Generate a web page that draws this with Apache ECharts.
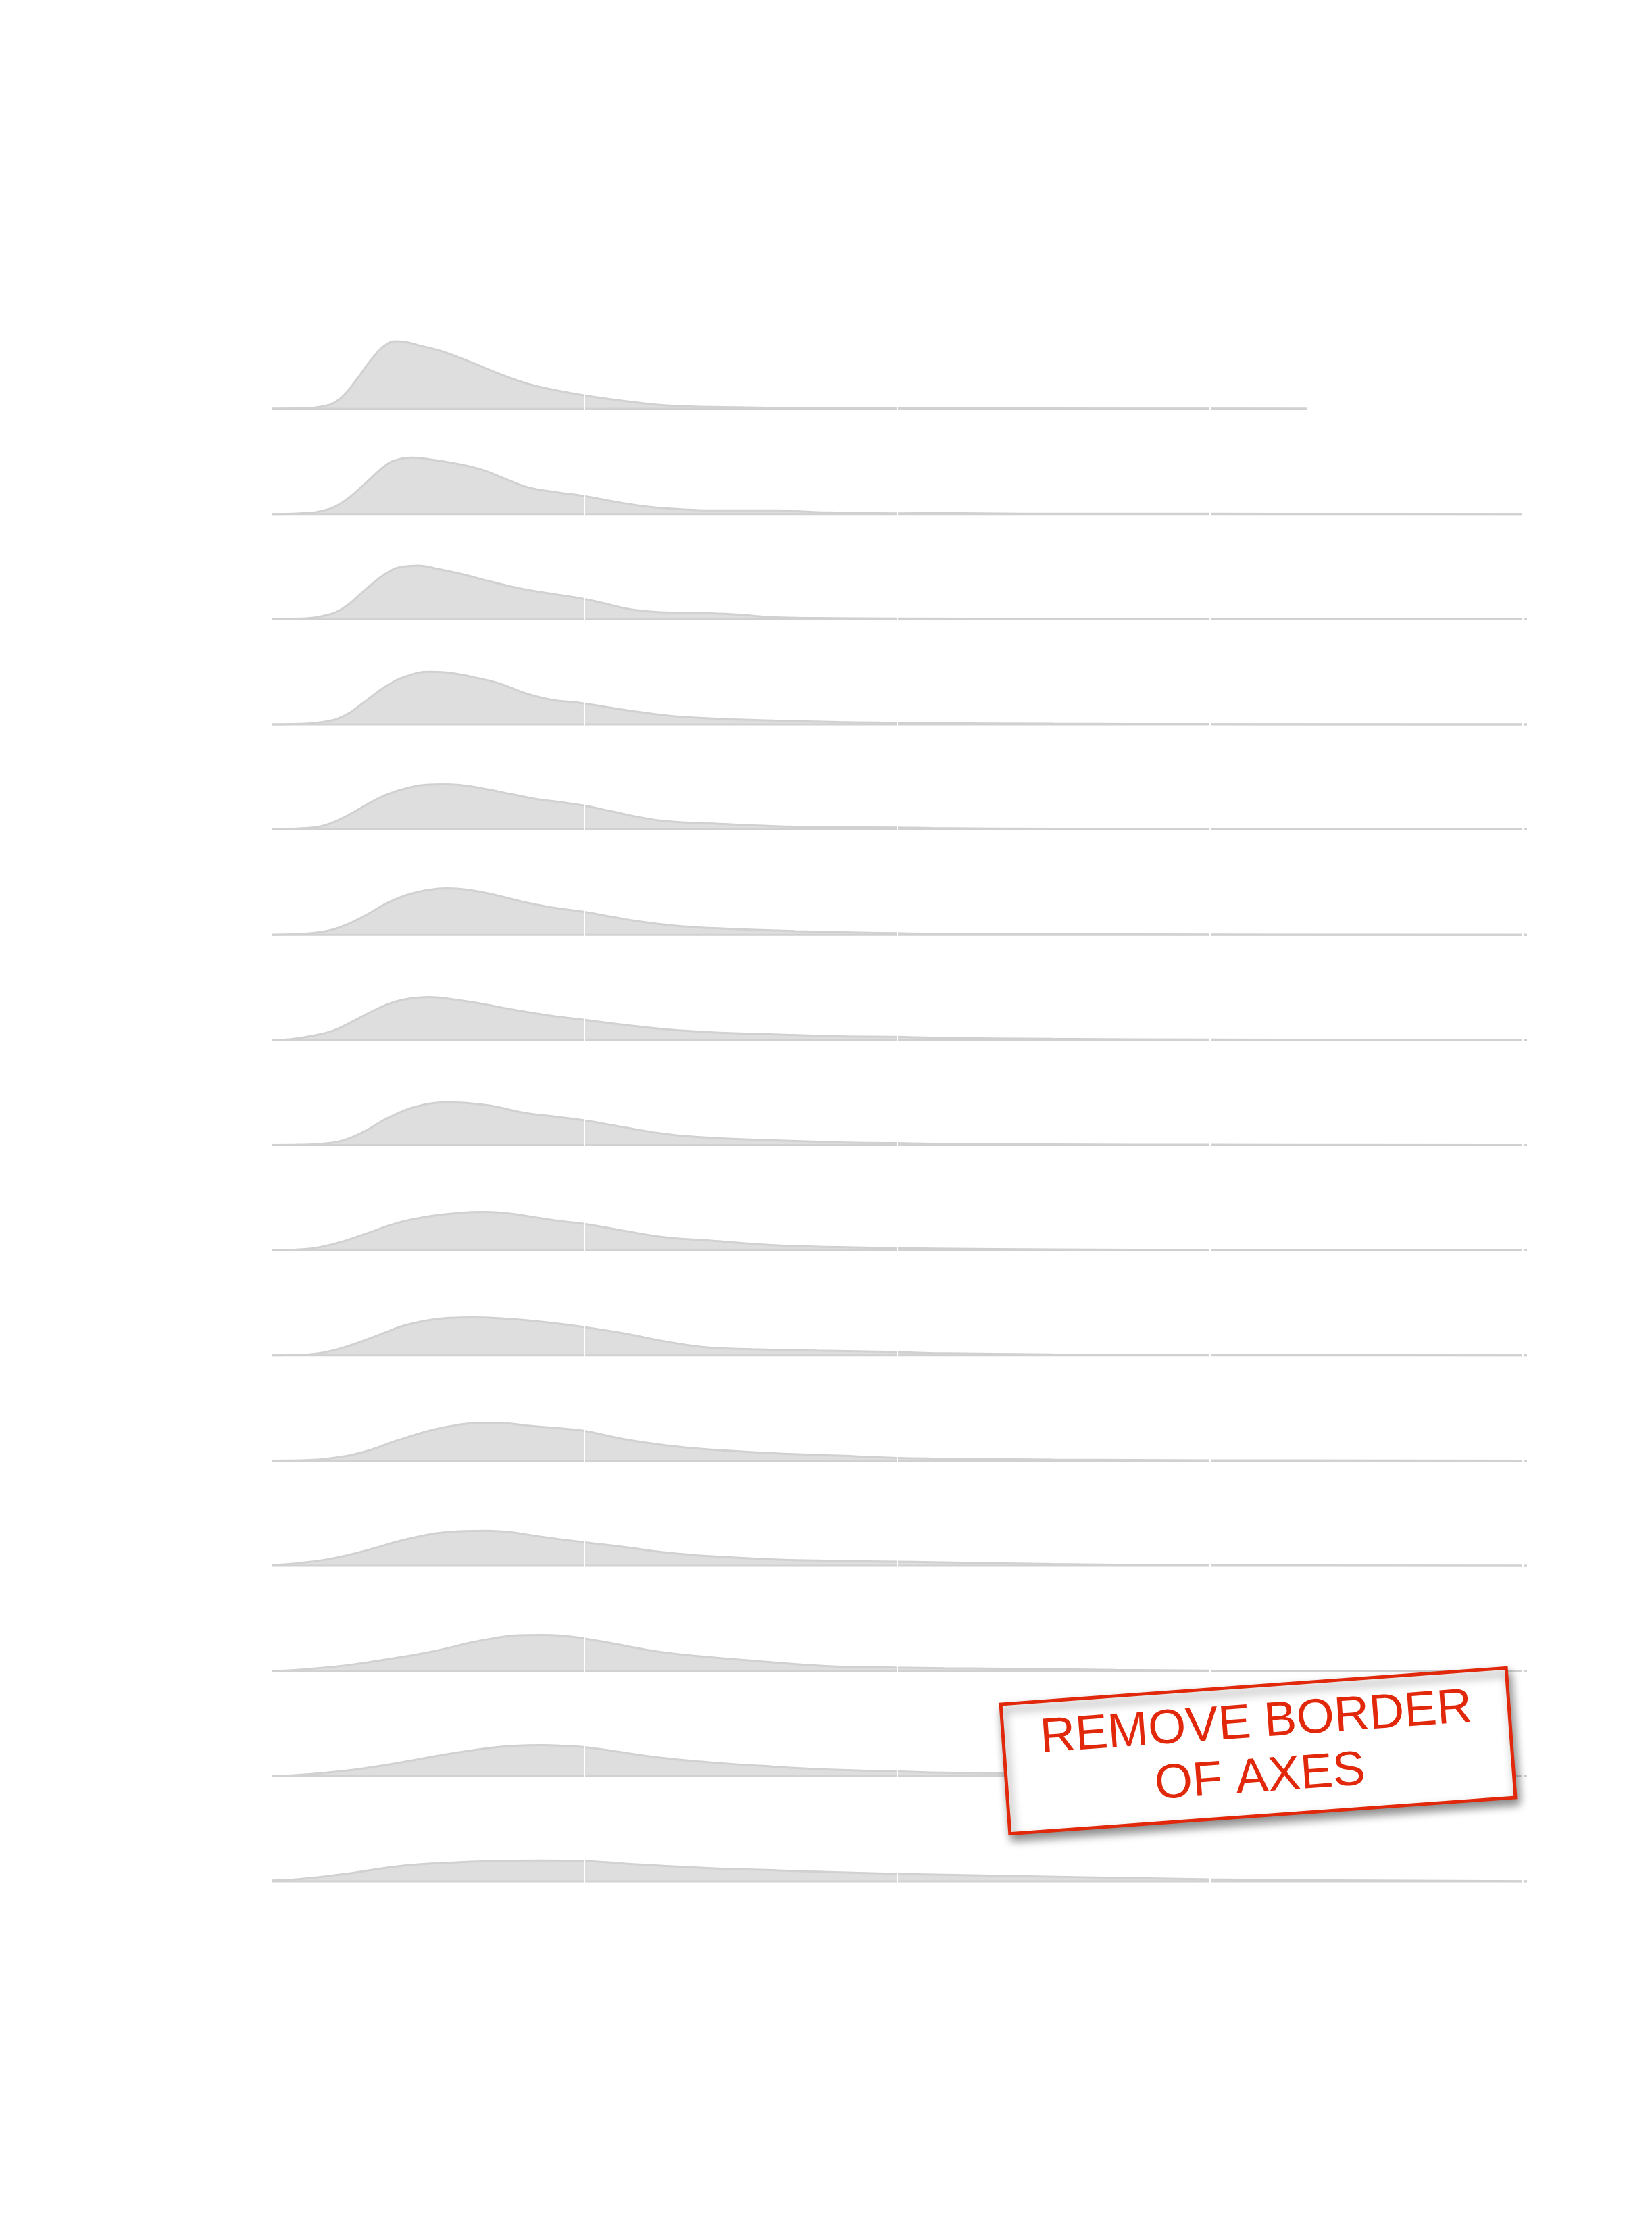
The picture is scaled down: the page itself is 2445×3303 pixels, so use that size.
<!DOCTYPE html>
<html>
<head>
<meta charset="utf-8">
<style>
  html, body { margin: 0; padding: 0; background: #ffffff; }
  #chart { width: 2445px; height: 3303px; }
</style>
<script src="https://cdn.jsdelivr.net/npm/echarts@6/dist/echarts.min.js"></script>
</head>
<body>
<div id="chart"></div>
<script>
// ---- Data: x positions and density values for each ridge (top to bottom) ----
const xs1  = [0, 0.09, 0.159, 0.214, 0.269, 0.325, 0.366, 0.40, 0.435, 0.476, 0.545, 0.641, 0.738, 0.821, 0.917, 0.997, 1.124, 1.261, 1.468, 1.744, 1.997, 2.5, 3.0, 3.309];
const den1 = [0, 0.013, 0.066, 0.266, 0.834, 1.534, 1.9, 2.0, 1.966, 1.866, 1.7, 1.366, 1.0, 0.734, 0.534, 0.4, 0.234, 0.1, 0.046, 0.02, 0.02, 0.01, 0.004, 0];

const xs2  = [0, 0.09, 0.159, 0.228, 0.297, 0.366, 0.407, 0.449, 0.504, 0.573, 0.669, 0.752, 0.821, 0.917, 0.997, 1.124, 1.261, 1.468, 1.606, 1.744, 1.997, 2.14, 2.4, 3.0, 3.5, 4.0];
const den2 = [0, 0.02, 0.086, 0.354, 0.886, 1.454, 1.62, 1.666, 1.62, 1.52, 1.32, 1.02, 0.786, 0.634, 0.534, 0.32, 0.166, 0.106, 0.106, 0.054, 0.02, 0.026, 0.01, 0.006, 0.004, 0];

const xs3  = [0, 0.09, 0.159, 0.228, 0.297, 0.366, 0.421, 0.469, 0.531, 0.614, 0.697, 0.807, 0.917, 0.997, 1.055, 1.151, 1.261, 1.399, 1.496, 1.606, 1.744, 1.997, 2.5, 3.0, 4.015];
const den3 = [0, 0.02, 0.086, 0.32, 0.854, 1.354, 1.554, 1.586, 1.486, 1.32, 1.12, 0.886, 0.72, 0.6, 0.486, 0.286, 0.2, 0.174, 0.134, 0.054, 0.034, 0.02, 0.01, 0.006, 0];

const xs4  = [0, 0.09, 0.159, 0.228, 0.297, 0.366, 0.435, 0.504, 0.559, 0.642, 0.725, 0.807, 0.890, 0.997, 1.124, 1.261, 1.399, 1.606, 1.813, 1.997, 2.113, 2.5, 3.0, 4.015];
const den4 = [0, 0.014, 0.066, 0.234, 0.666, 1.134, 1.434, 1.554, 1.534, 1.4, 1.22, 0.934, 0.734, 0.62, 0.434, 0.266, 0.18, 0.114, 0.066, 0.046, 0.034, 0.016, 0.006, 0];

const xs5  = [0, 0.09, 0.159, 0.228, 0.297, 0.366, 0.435, 0.504, 0.545, 0.600, 0.683, 0.780, 0.849, 0.917, 0.997, 1.083, 1.165, 1.261, 1.399, 1.606, 1.813, 1.997, 2.113, 2.5, 3.0, 4.015];
const den5 = [0, 0.032, 0.098, 0.342, 0.702, 1.028, 1.232, 1.33, 1.34, 1.322, 1.2, 1.02, 0.898, 0.816, 0.71, 0.546, 0.384, 0.244, 0.18, 0.098, 0.066, 0.058, 0.04, 0.02, 0.008, 0];

const xs6  = [0, 0.09, 0.159, 0.228, 0.297, 0.366, 0.435, 0.504, 0.559, 0.628, 0.711, 0.807, 0.890, 0.997, 1.096, 1.193, 1.303, 1.468, 1.675, 1.882, 1.997, 2.113, 2.5, 3.0, 4.015];
const den6 = [0, 0.024, 0.082, 0.254, 0.556, 0.922, 1.184, 1.33, 1.372, 1.33, 1.184, 0.964, 0.816, 0.678, 0.514, 0.368, 0.254, 0.172, 0.106, 0.066, 0.048, 0.032, 0.02, 0.008, 0];

const xs7  = [0, 0.062, 0.131, 0.2, 0.269, 0.338, 0.394, 0.449, 0.504, 0.573, 0.669, 0.780, 0.890, 0.997, 1.124, 1.261, 1.399, 1.606, 1.813, 1.997, 2.113, 2.5, 3.0, 4.015];
const den7 = [0, 0.024, 0.122, 0.286, 0.596, 0.922, 1.126, 1.232, 1.266, 1.208, 1.07, 0.882, 0.718, 0.596, 0.448, 0.31, 0.228, 0.164, 0.106, 0.09, 0.066, 0.03, 0.012, 0];

const xs8  = [0, 0.09, 0.159, 0.228, 0.297, 0.366, 0.435, 0.504, 0.559, 0.614, 0.697, 0.807, 0.890, 0.997, 1.124, 1.261, 1.399, 1.606, 1.813, 1.997, 2.113, 2.5, 3.0, 4.015];
const den8 = [0, 0.008, 0.04, 0.138, 0.408, 0.776, 1.062, 1.224, 1.266, 1.248, 1.168, 0.956, 0.858, 0.734, 0.53, 0.326, 0.22, 0.138, 0.082, 0.058, 0.04, 0.02, 0.008, 0];

const xs9  = [0, 0.09, 0.2, 0.297, 0.394, 0.504, 0.600, 0.669, 0.738, 0.835, 0.917, 0.997, 1.124, 1.261, 1.399, 1.606, 1.813, 1.997, 2.113, 2.5, 3.0, 4.015];
const den9 = [0, 0.024, 0.188, 0.474, 0.784, 1.004, 1.102, 1.134, 1.11, 0.98, 0.866, 0.784, 0.58, 0.376, 0.286, 0.146, 0.09, 0.066, 0.048, 0.024, 0.01, 0];

const xs10  = [0, 0.09, 0.173, 0.256, 0.338, 0.421, 0.504, 0.573, 0.642, 0.725, 0.835, 0.917, 0.997, 1.124, 1.261, 1.399, 1.537, 1.744, 1.997, 2.113, 2.5, 3.0, 4.015];
const den10 = [0, 0.016, 0.098, 0.31, 0.588, 0.874, 1.044, 1.11, 1.126, 1.102, 1.02, 0.938, 0.84, 0.654, 0.408, 0.228, 0.18, 0.138, 0.098, 0.066, 0.03, 0.012, 0];

const xs11  = [0, 0.09, 0.2, 0.297, 0.394, 0.504, 0.600, 0.669, 0.725, 0.807, 0.917, 0.997, 1.124, 1.261, 1.399, 1.606, 1.813, 1.997, 2.113, 2.5, 3.0, 4.015];
const den11 = [0, 0.008, 0.082, 0.262, 0.572, 0.882, 1.062, 1.118, 1.118, 1.044, 0.956, 0.882, 0.636, 0.448, 0.326, 0.22, 0.146, 0.08, 0.06, 0.03, 0.01, 0];

const xs12  = [0, 0.09, 0.2, 0.31, 0.421, 0.531, 0.614, 0.683, 0.752, 0.862, 0.997, 1.124, 1.261, 1.399, 1.606, 1.813, 1.997, 2.113, 2.5, 3.0, 4.015];
const den12 = [0.024, 0.082, 0.228, 0.474, 0.76, 0.964, 1.028, 1.036, 1.004, 0.858, 0.694, 0.556, 0.392, 0.286, 0.188, 0.146, 0.122, 0.106, 0.05, 0.016, 0];

const xs13  = [0, 0.104, 0.256, 0.407, 0.483, 0.559, 0.634, 0.710, 0.786, 0.862, 0.937, 0.995, 1.089, 1.240, 1.392, 1.543, 1.770, 1.995, 2.15, 2.33, 2.7, 3.0, 4.015];
const den13 = [0, 0.046, 0.186, 0.4, 0.52, 0.666, 0.834, 0.966, 1.054, 1.066, 1.034, 0.966, 0.814, 0.566, 0.414, 0.3, 0.146, 0.1, 0.08, 0.066, 0.03, 0.01, 0];

const xs14  = [0, 0.104, 0.256, 0.407, 0.559, 0.710, 0.786, 0.862, 0.937, 0.995, 1.089, 1.240, 1.392, 1.543, 1.770, 1.995, 2.15, 2.33, 2.7, 3.0, 4.015];
const den14 = [0, 0.046, 0.18, 0.394, 0.646, 0.846, 0.9, 0.914, 0.894, 0.86, 0.746, 0.546, 0.414, 0.314, 0.194, 0.14, 0.1, 0.08, 0.04, 0.014, 0];

const xs15  = [0, 0.104, 0.256, 0.407, 0.559, 0.710, 0.862, 0.995, 1.165, 1.392, 1.619, 1.8, 2.0, 2.3, 2.6, 3.0, 3.4, 4.015];
const den15 = [0.026, 0.08, 0.246, 0.446, 0.546, 0.6, 0.614, 0.6, 0.5, 0.39, 0.32, 0.27, 0.22, 0.17, 0.12, 0.06, 0.03, 0.006];

// extent of each ridge's baseline (data range)
const rowEnds = [3.309, 4.0, 4.015, 4.015, 4.015, 4.015, 4.015, 4.015, 4.015, 4.015, 4.015, 4.015, 4.015, 4.015, 4.015];
const xTicks = [0, 1, 2, 3, 4];
const noteText = 'REMOVE BORDER\nOF AXES';

const rowXs  = [xs1, xs2, xs3, xs4, xs5, xs6, xs7, xs8, xs9, xs10, xs11, xs12, xs13, xs14, xs15];
const rowDen = [den1, den2, den3, den4, den5, den6, den7, den8, den9, den10, den11, den12, den13, den14, den15];

// ---- Layout (styling only) ----
const LEFT = 402, WIDTH = 1859;
const FIRST_BASE = 605, STEP = 155.64;
const PX_PER_UNIT = 50;          // vertical pixels per density unit
const Y_MAX = 3.0, PAD = 3;      // pad below baseline so gridlines cut the baseline
const Y_MIN = -PAD / PX_PER_UNIT;
const X_MAX = 4.015;

const FILL = '#dedede', LINE = '#d1d1d1';

const grids = [], xAxes = [], yAxes = [], series = [];
rowXs.forEach((xs, i) => {
  const base = FIRST_BASE + i * STEP;
  const h = (Y_MAX - Y_MIN) * PX_PER_UNIT;
  grids.push({ left: LEFT, width: WIDTH, top: base - Y_MAX * PX_PER_UNIT, height: h, containLabel: false });
  xAxes.push({
    gridIndex: i, type: 'value', min: 0, max: X_MAX, interval: 1, z: 10,
    axisLine: { show: false }, axisTick: { show: false }, axisLabel: { show: false },
    splitLine: { show: true, lineStyle: { color: '#ffffff', width: 2 } }
  });
  yAxes.push({ gridIndex: i, type: 'value', min: Y_MIN, max: Y_MAX, show: false, splitLine: { show: false } });
  const pts = xs.map((x, k) => [x, rowDen[i][k]]);
  series.push({
    type: 'line', xAxisIndex: i, yAxisIndex: i, data: pts,
    smooth: 0.45, showSymbol: false, silent: true, z: 2,
    lineStyle: { color: LINE, width: 3 },
    areaStyle: { color: FILL, opacity: 1, origin: 0 }
  });
  series.push({
    type: 'line', xAxisIndex: i, yAxisIndex: i, data: [[xTicks[0], 0], [rowEnds[i], 0]],
    showSymbol: false, silent: true, z: 3,
    lineStyle: { color: LINE, width: 3 }
  });
});

const chart = echarts.init(document.getElementById('chart'), null, { renderer: 'canvas' });
chart.setOption({
  backgroundColor: '#ffffff',
  animation: false,
  grid: grids, xAxis: xAxes, yAxis: yAxes, series: series,
  graphic: [{
    type: 'group', x: 1862, y: 2591, rotation: 4.1 * Math.PI / 180, z: 100, zlevel: 1,
    children: [
      { type: 'rect', z: 100, zlevel: 1, shape: { x: -375, y: -96, width: 750, height: 192 },
        style: { fill: '#ffffff', stroke: '#e2280b', lineWidth: 5,
                 shadowBlur: 14, shadowOffsetX: 4, shadowOffsetY: 8, shadowColor: 'rgba(0,0,0,0.45)' } },
      { type: 'text', z: 101, zlevel: 1, x: 0, y: 0,
        style: { text: noteText, fill: '#e2280b', fontSize: 72, fontFamily: '"Liberation Sans", Arial, sans-serif',
                 align: 'center', verticalAlign: 'middle', lineHeight: 81 } }
    ]
  }]
});
</script>
</body>
</html>
